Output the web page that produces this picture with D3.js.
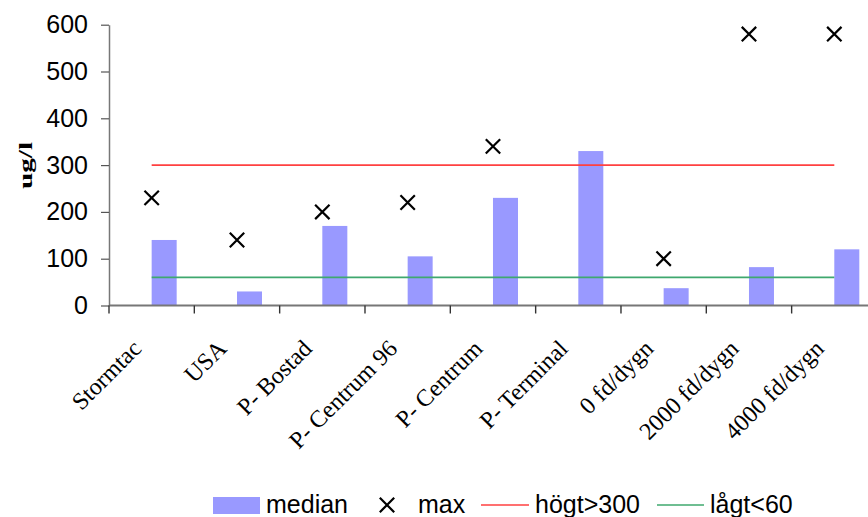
<!DOCTYPE html>
<html>
<head>
<meta charset="utf-8">
<script src="https://cdn.jsdelivr.net/npm/d3@7"></script>
<style>
  html, body { margin: 0; padding: 0; background: #fff; }
  svg { display: block; }
</style>
</head>
<body>
<svg id="chart" width="868" height="517"></svg>
<script>
// Measurement sites / traffic scenarios
const categories = ["Stormtac", "USA", "P- Bostad", "P- Centrum 96", "P- Centrum",
                    "P- Terminal", "0 fd/dygn", "2000 fd/dygn", "4000 fd/dygn"];
// Median concentration (ug/l)
const medianValues = [140, 30, 170, 105, 230, 330, 37, 82, 120];
// Maximum concentration (ug/l); P- Terminal has no max
const maxValues = [230, 140, 200, 220, 340, null, 100, 580, 580];
// Reference levels
const highLimit = 300;
const lowLimit = 60;
const yTicks = [0, 100, 200, 300, 400, 500, 600];
const legendLabels = ["median", "max", "högt>300", "lågt<60"];

const svg = d3.select("#chart");
const sans = "'Liberation Sans', Arial, sans-serif";
const serif = "'Liberation Serif', 'Times New Roman', serif";

const bandW = 85.33;
const x = d3.scaleBand().domain(categories).range([109, 109 + bandW * categories.length]).padding(0);
const y = d3.scaleLinear().domain([0, 600]).range([305.5, 24.7]);
const cx = c => x(c) + x.bandwidth() / 2;

const barColor = "#9999ff";
const highColor = "#ff4040";
const lowColor = "#3fa86e";

// Bars (median), drawn to the right of each category centre
svg.append("g").selectAll("rect")
  .data(categories.map((c, i) => ({ c, v: medianValues[i] })))
  .join("rect")
  .attr("x", d => cx(d.c))
  .attr("width", x.bandwidth() * 0.293)
  .attr("y", d => y(d.v))
  .attr("height", d => y(0) - y(d.v))
  .attr("fill", barColor);

// Reference lines
const lineGen = d3.line().x(d => cx(d.c)).y(d => y(d.v));
[[highLimit, highColor], [lowLimit, lowColor]].forEach(([lim, col]) => {
  svg.append("path")
    .datum(categories.map(c => ({ c, v: lim })))
    .attr("d", lineGen)
    .attr("fill", "none")
    .attr("stroke", col)
    .attr("stroke-width", 1.6);
});

// Max markers
const crossPath = s => `M${-s},${-s}L${s},${s}M${-s},${s}L${s},${-s}`;
svg.append("g").selectAll("path")
  .data(categories.map((c, i) => ({ c, v: maxValues[i] })).filter(d => d.v != null))
  .join("path")
  .attr("transform", d => `translate(${cx(d.c)},${y(d.v)})`)
  .attr("d", crossPath(7.2))
  .attr("stroke", "#000")
  .attr("stroke-width", 2.2)
  .attr("fill", "none");

// Y axis
const yAxis = d3.axisLeft(y).tickValues(yTicks).tickSize(8).tickPadding(13).tickSizeOuter(0);
const gy = svg.append("g").attr("transform", "translate(109,0)").call(yAxis);
gy.select(".domain").attr("stroke", "#777").attr("stroke-width", 1.5);
gy.selectAll(".tick line").attr("stroke", "#555").attr("stroke-width", 1.2);
gy.selectAll(".tick text")
  .attr("font-family", sans).attr("font-size", 25).attr("fill", "#000");

// X axis: ticks at category boundaries
const gx = svg.append("g").attr("transform", `translate(0,${y(0)})`);
gx.append("line").attr("x1", 109).attr("x2", 868).attr("y1", 0).attr("y2", 0)
  .attr("stroke", "#777").attr("stroke-width", 2);
const boundaries = categories.map(c => x(c)).concat([x(categories[categories.length - 1]) + x.bandwidth()]);
gx.selectAll("line.tk").data(boundaries).join("line").attr("class", "tk")
  .attr("x1", d => d).attr("x2", d => d).attr("y1", 0).attr("y2", 8)
  .attr("stroke", "#333").attr("stroke-width", 1.4);

// Rotated category labels
svg.append("g").selectAll("text")
  .data(categories)
  .join("text")
  .attr("transform", c => `translate(${cx(c) - 9},${350}) rotate(-45)`)
  .attr("text-anchor", "end")
  .attr("font-family", serif)
  .attr("font-size", 24)
  .attr("fill", "#000")
  .text(c => c);

// Y axis title
svg.append("text")
  .attr("transform", "translate(32,165.5) rotate(-90)")
  .attr("text-anchor", "middle")
  .attr("font-family", serif)
  .attr("font-weight", "bold")
  .attr("font-size", 18)
  .attr("textLength", 47)
  .attr("lengthAdjust", "spacingAndGlyphs")
  .text("ug/l");

// Legend
const lg = svg.append("g").attr("font-family", sans).attr("font-size", 25);
lg.append("rect").attr("x", 213).attr("y", 497).attr("width", 47).attr("height", 17).attr("fill", barColor);
lg.append("text").attr("x", 266).attr("y", 513).text(legendLabels[0]);
lg.append("path").attr("transform", "translate(387,505)").attr("d", crossPath(7.2))
  .attr("stroke", "#000").attr("stroke-width", 2.2);
lg.append("text").attr("x", 418).attr("y", 513).text(legendLabels[1]);
lg.append("line").attr("x1", 481).attr("x2", 529).attr("y1", 505).attr("y2", 505)
  .attr("stroke", highColor).attr("stroke-width", 1.6);
lg.append("text").attr("x", 535).attr("y", 513).text(legendLabels[2]);
lg.append("line").attr("x1", 657).attr("x2", 704).attr("y1", 505).attr("y2", 505)
  .attr("stroke", lowColor).attr("stroke-width", 1.6);
lg.append("text").attr("x", 710).attr("y", 513).text(legendLabels[3]);
</script>
</body>
</html>
